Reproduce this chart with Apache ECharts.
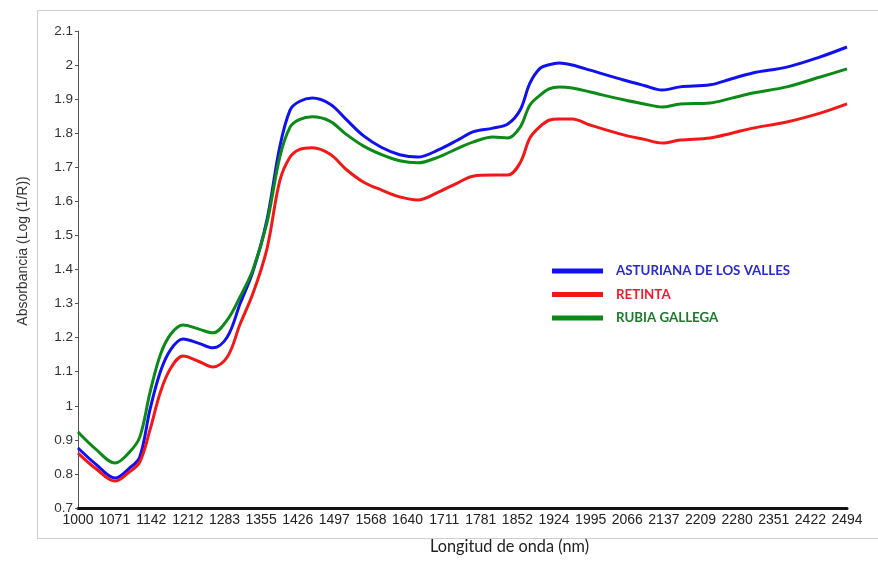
<!DOCTYPE html>
<html>
<head>
<meta charset="utf-8">
<script src="https://cdn.jsdelivr.net/npm/echarts@6/dist/echarts.min.js"></script>
<style>
html,body{margin:0;padding:0;background:#fff;}
#chart{width:878px;height:561px;}
</style>
</head>
<body>
<div id="chart"></div>
<script>
// Tick labels on the wavelength axis
var tickLabels = ['1000','1071','1142','1212','1283','1355','1426','1497','1568','1640','1711','1781','1852','1924','1995','2066','2137','2209','2280','2351','2422','2494'];

// Wavelengths (nm) at which values were read
var wavelengths = [1000,1035,1072,1100,1120,1140,1160,1180,1204,1235,1262,1290,1315,1340,1367,1392,1412,1430,1455,1490,1520,1555,1590,1625,1660,1700,1740,1767,1806,1835,1859,1878,1898,1915,1935,1960,1995,2060,2100,2135,2170,2228,2270,2311,2377,2442,2494];

var asturiana = [0.876,0.828,0.788,0.817,0.850,0.990,1.100,1.165,1.196,1.183,1.170,1.202,1.300,1.395,1.545,1.760,1.868,1.893,1.903,1.885,1.842,1.792,1.758,1.737,1.730,1.751,1.782,1.804,1.815,1.827,1.868,1.947,1.991,2.001,2.006,2.000,1.985,1.956,1.940,1.927,1.936,1.942,1.960,1.977,1.994,2.024,2.053];

var retinta = [0.861,0.815,0.779,0.806,0.835,0.930,1.040,1.110,1.146,1.130,1.114,1.143,1.240,1.330,1.460,1.660,1.730,1.752,1.757,1.738,1.695,1.656,1.633,1.613,1.604,1.627,1.656,1.674,1.677,1.677,1.713,1.786,1.820,1.838,1.842,1.842,1.824,1.795,1.782,1.771,1.780,1.786,1.800,1.815,1.833,1.859,1.886];

var rubia = [0.923,0.872,0.832,0.864,0.908,1.040,1.150,1.210,1.237,1.225,1.214,1.252,1.320,1.400,1.537,1.730,1.818,1.840,1.848,1.835,1.798,1.762,1.737,1.719,1.713,1.730,1.757,1.774,1.789,1.786,1.818,1.883,1.912,1.930,1.936,1.933,1.921,1.898,1.886,1.877,1.886,1.889,1.903,1.918,1.936,1.965,1.989];

var seriesNames = ['ASTURIANA DE LOS VALLES','RETINTA','RUBIA GALLEGA'];
var seriesColors = ['#1010f0','#f21818','#0c8a18'];
var textColors = ['#2a2ad0','#f01c2c','#1d7a2a'];

function pairs(ys){ return wavelengths.map(function(x,i){ return [x, ys[i]]; }); }
var seriesValues = [asturiana, retinta, rubia];

var chart = echarts.init(document.getElementById('chart'), null, {renderer:'canvas'});
chart.setOption({
  backgroundColor:'#fff',
  animation:false,
  grid:{left:78, right:31, top:31, bottom:53, containLabel:false},
  graphic:[
    {type:'rect', left:35, top:8, shape:{width:860, height:528}, style:{fill:'none', stroke:'#cfcfcf', lineWidth:1}, z:-1},
    {type:'text', left:430, top:539, style:{text:'Longitud de onda (nm)', font:'16.3px Lato', fill:'#222'}},
    {type:'text', rotation:Math.PI/2, x:23, y:251,
      style:{text:'Absorbancia (Log (1/R))', font:'14px "Liberation Sans"', fill:'#333', align:'center', verticalAlign:'middle'}}
  ],
  legend:{
    orient:'vertical', left:552, top:264, padding:0, itemWidth:51, itemHeight:5, itemGap:9.5,
    icon:'rect',
    textStyle:{fontFamily:'Lato', fontWeight:'bold', fontSize:13.3, lineHeight:14, padding:[0,0,0,8]},
    data: seriesNames.map(function(n,i){ return {name:n, textStyle:{color:textColors[i]}}; })
  },
  xAxis:[
    {type:'category', data:tickLabels, boundaryGap:false,
     axisLine:{lineStyle:{color:'#111', width:3}},
     axisTick:{show:false},
     axisLabel:{interval:0, fontFamily:'"Liberation Sans"', fontSize:14, color:'#222', margin:5},
     splitLine:{show:false}},
    {type:'value', min:1000, max:2494, show:false, splitLine:{show:false}}
  ],
  yAxis:{
    type:'value', min:0.7, max:2.1, interval:0.1,
    axisLine:{show:true, lineStyle:{color:'#555', width:1}},
    axisTick:{show:true, length:3, lineStyle:{color:'#555'}},
    axisLabel:{fontFamily:'"Liberation Sans"', fontSize:13.5, color:'#333', margin:5,
      formatter:function(v){ return String(Math.round(v*10)/10); }},
    splitLine:{show:false}
  },
  series: seriesNames.map(function(n,i){
    return {name:n, type:'line', xAxisIndex:1, data:pairs(seriesValues[i]), smooth:0.35, showSymbol:false,
      lineStyle:{color:seriesColors[i], width:3}, itemStyle:{color:seriesColors[i]}};
  })
});
</script>
</body>
</html>
